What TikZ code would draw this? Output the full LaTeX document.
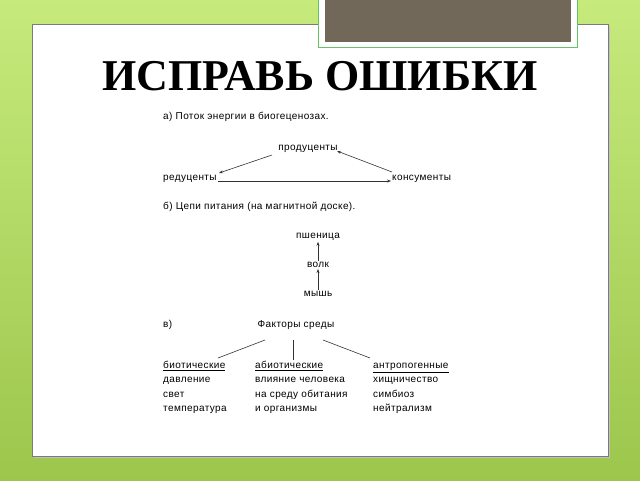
\documentclass[tikz,border=0pt]{standalone}
\usepackage{fontspec}
\setmainfont[LetterSpace=4]{Liberation Sans}
\newfontfamily\titlefont{Liberation Serif}
\usetikzlibrary{arrows.meta}
\definecolor{bgtop}{HTML}{C6EA7C}
\definecolor{bgbot}{HTML}{9CC64C}
\definecolor{taupe}{HTML}{71685A}
\definecolor{panelline}{HTML}{7A7A7A}
\tikzset{
  txt/.style={inner sep=0pt, anchor=mid west, font=\fontsize{10}{12}\selectfont},
  ctxt/.style={inner sep=1pt, anchor=mid, font=\fontsize{10}{12}\selectfont},
  arr/.style={-{Stealth[length=4pt,width=3pt]}, line width=0.6pt, black!80},
  ln/.style={line width=0.6pt, black!80}
}
\begin{document}
\begin{tikzpicture}[x=1pt,y=-1pt]
\useasboundingbox (0,0) rectangle (640,480);
\shade[top color=bgtop, bottom color=bgbot] (0,0) rectangle (640,480);
% panel
\fill[black!25] (34,26) rectangle (610,458);
\draw[panelline, fill=white, line width=0.8pt] (32,24) rectangle (608,456);
% gray box
\draw[green!60!black!60, fill=white, line width=0.6pt] (318,-2) rectangle (577,47);
\fill[taupe] (325,-2) rectangle (571,42);
% title
\node[inner sep=0pt, anchor=base] (title) at (320,90) {\titlefont\bfseries\fontsize{44}{50}\selectfont ИСПРАВЬ ОШИБКИ};
% a)
\node[txt] (ha) at (163,117) {а) Поток энергии в биогеценозах.};
\node[ctxt] (prod) at (308,148) {продуценты};
\node[txt] (red) at (163,178) {редуценты};
\node[txt] (kons) at (392,178) {консументы};
\coordinate (p1) at (272,155);
\coordinate (r1) at (219,173);
\coordinate (k1) at (392,172);
\coordinate (p2) at (337,151);
\coordinate (r2) at (218,181);
\coordinate (k2) at (391,181);
\draw[arr] (p1) -- (r1);
\draw[arr] (k1) -- (p2);
\draw[arr] (r2) -- (k2);
% b)
\node[txt] (hb) at (163,207) {б) Цепи питания (на магнитной доске).};
\node[ctxt] (psh) at (318,236) {пшеница};
\node[ctxt] (volk) at (318,265) {волк};
\node[ctxt] (mysh) at (318,294) {мышь};
\draw[arr] (volk) -- (psh);
\draw[arr] (mysh) -- (volk);
% c)
\node[txt] (hc) at (163,325) {в)};
\node[ctxt] (fact) at (296,325) {Факторы среды};
\node[txt] (bio) at (163,366) {\underline{биотические}};
\node[txt] at (163,380) {давление};
\node[txt] at (163,395) {свет};
\node[txt] at (163,409) {температура};
\node[txt] (abio) at (255,366) {\underline{абиотические}};
\node[txt] at (255,380) {влияние человека};
\node[txt] at (255,395) {на среду обитания};
\node[txt] at (255,409) {и организмы};
\node[txt] (antr) at (373,366) {\underline{антропогенные}};
\node[txt] at (373,380) {хищничество};
\node[txt] at (373,395) {симбиоз};
\node[txt] at (373,409) {нейтрализм};
\coordinate (f1) at (265,340);
\coordinate (f2) at (293,340);
\coordinate (f3) at (323,340);
\coordinate (b1) at (218,358);
\coordinate (b2) at (293,360);
\coordinate (b3) at (370,358);
\draw[ln] (f1) -- (b1);
\draw[ln] (f2) -- (b2);
\draw[ln] (f3) -- (b3);
\end{tikzpicture}
\end{document}
